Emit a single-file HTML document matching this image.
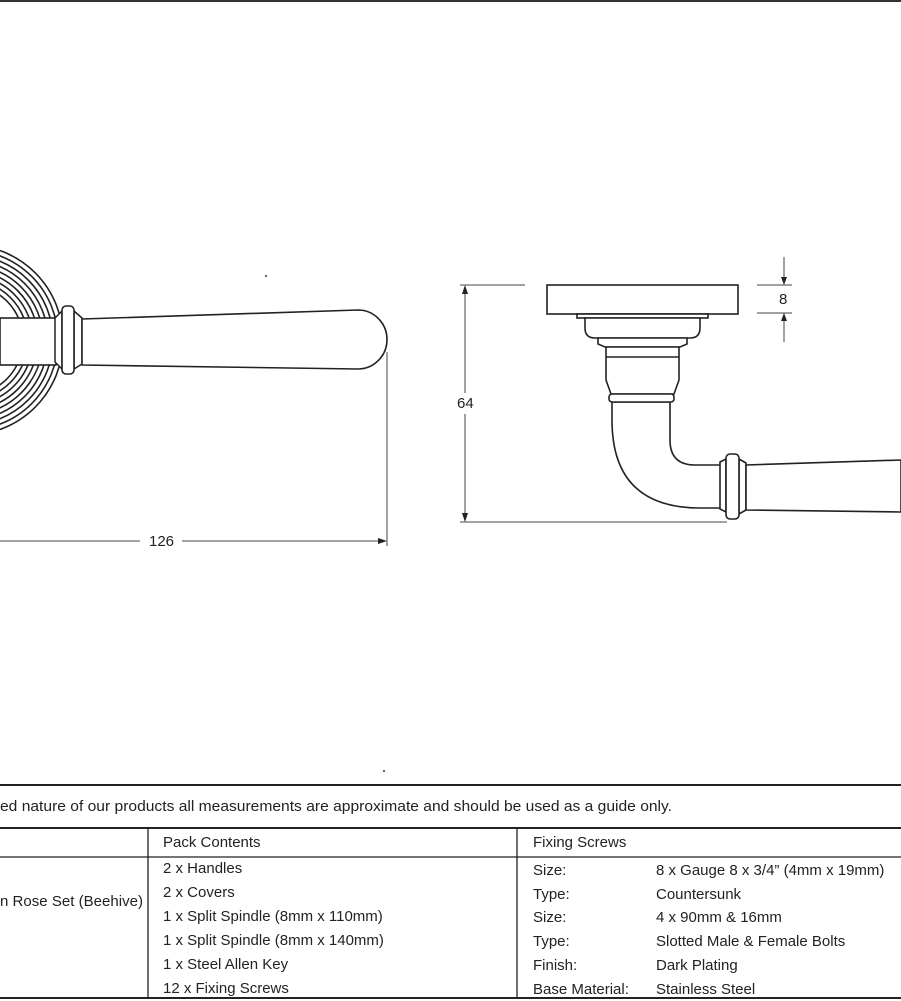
<!DOCTYPE html>
<html><head><meta charset="utf-8"><style>
html,body{margin:0;padding:0;background:#fff;}
svg{display:block}
text{font-family:"Liberation Sans",sans-serif;fill:#222;}
.t{font-size:15px;}
</style></head><body>
<svg width="901" height="1001" viewBox="0 0 901 1001" xmlns="http://www.w3.org/2000/svg">
<line x1="0" y1="1" x2="901" y2="1" stroke="#333" stroke-width="2"/>
<g fill="none" stroke="#222" stroke-width="1.6">
<circle cx="-32" cy="340" r="95"/><circle cx="-32" cy="340" r="90"/><circle cx="-32" cy="340" r="85"/>
<circle cx="-32" cy="340" r="80"/><circle cx="-32" cy="340" r="75"/><circle cx="-32" cy="340" r="70"/>
<circle cx="-32" cy="340" r="65"/><circle cx="-32" cy="340" r="60"/><circle cx="-32" cy="340" r="55"/>
</g>
<rect x="0" y="318" width="56" height="47" fill="#fff" stroke="#222" stroke-width="1.6"/>
<path d="M55 318 L62 311 L62 369 L55 362 Z" fill="#fff" stroke="#222" stroke-width="1.5"/>
<path d="M74 311 L82 318 L82 364 L74 369 Z" fill="#fff" stroke="#222" stroke-width="1.5"/>
<rect x="62" y="306" width="12" height="68" rx="4" fill="#fff" stroke="#222" stroke-width="1.6"/>
<path d="M82 319 L358 310 A29 29.5 0 0 1 358 369 L82 365 Z" fill="#fff" stroke="#222" stroke-width="1.6"/>
<circle cx="266" cy="276" r="1" fill="#333"/>
<circle cx="384" cy="771" r="1" fill="#333"/>
<g stroke="#444" stroke-width="1">
<line x1="387" y1="352" x2="387" y2="546"/>
<line x1="0" y1="541" x2="140" y2="541"/>
<line x1="182" y1="541" x2="380" y2="541"/>
</g>
<path d="M387 541 L378 538 L378 544 Z" fill="#222"/>
<text x="149" y="546" class="t">126</text>

<g stroke="#444" stroke-width="1" fill="none">
<line x1="460" y1="285" x2="525" y2="285"/>
<line x1="460" y1="522" x2="727" y2="522"/>
<line x1="465" y1="292" x2="465" y2="393"/>
<line x1="465" y1="414" x2="465" y2="516"/>
<line x1="757" y1="285" x2="792" y2="285"/>
<line x1="757" y1="313" x2="792" y2="313"/>
<line x1="784" y1="257" x2="784" y2="280"/>
<line x1="784" y1="318" x2="784" y2="342"/>
</g>
<path d="M465 285 L462 294 L468 294 Z M465 522 L462 513 L468 513 Z M784 285 L781 277 L787 277 Z M784 313 L781 321 L787 321 Z" fill="#222"/>
<text x="457" y="408" class="t">64</text>
<text x="779" y="304" class="t">8</text>
<g fill="#fff" stroke="#222" stroke-width="1.6">
<rect x="547" y="285" width="191" height="29"/>
<rect x="577" y="314" width="131" height="4"/>
<path d="M585 318 L700 318 L700 328 Q700 338 690 338 L595 338 Q585 338 585 328 Z"/>
<path d="M598 338 L687 338 L687 344 L680 347 L605 347 L598 344 Z"/>
<path d="M606 347 L679 347 L679 380 L674 394 L611 394 L606 380 Z"/>
<line x1="606" y1="357" x2="679" y2="357"/>
<path d="M612 402 L670 402 L670 440 Q670 465 695 465 L722 465 L722 508 L700 508 Q612 508 612 420 Z"/>
<rect x="609" y="394" width="65" height="8" rx="3"/>
<path d="M720 462 L726 459 L726 512 L720 509 Z"/>
<path d="M739 459 L746 463 L746 510 L739 514 Z"/>
<rect x="726" y="454" width="13" height="65" rx="4"/>
<path d="M746 465 L901 460 L901 512 L746 510 Z"/>
</g>

<g stroke="#222" stroke-width="2">
<line x1="0" y1="785" x2="901" y2="785"/>
<line x1="0" y1="828" x2="901" y2="828"/>
<line x1="0" y1="998" x2="901" y2="998"/>
</g>
<g stroke="#222" stroke-width="1.3">
<line x1="0" y1="857" x2="901" y2="857"/>
<line x1="148" y1="828" x2="148" y2="998"/>
<line x1="517" y1="828" x2="517" y2="998"/>
</g>
<g class="t">
<text x="0" y="811" textLength="672" lengthAdjust="spacingAndGlyphs">ed nature of our products all measurements are approximate and should be used as a guide only.</text>
<text x="163" y="847">Pack Contents</text>
<text x="533" y="847">Fixing Screws</text>
<text x="0" y="906" textLength="143" lengthAdjust="spacingAndGlyphs">n Rose Set (Beehive)</text>
<text x="163" y="873">2 x Handles</text>
<text x="163" y="897">2 x Covers</text>
<text x="163" y="921">1 x Split Spindle (8mm x 110mm)</text>
<text x="163" y="945">1 x Split Spindle (8mm x 140mm)</text>
<text x="163" y="969">1 x Steel Allen Key</text>
<text x="163" y="993">12 x Fixing Screws</text>
<text x="533" y="875">Size:</text>
<text x="533" y="899">Type:</text>
<text x="533" y="922">Size:</text>
<text x="533" y="946">Type:</text>
<text x="533" y="970">Finish:</text>
<text x="533" y="994">Base Material:</text>
<text x="656" y="875">8 x Gauge 8 x 3/4” (4mm x 19mm)</text>
<text x="656" y="899">Countersunk</text>
<text x="656" y="922">4 x 90mm &amp; 16mm</text>
<text x="656" y="946">Slotted Male &amp; Female Bolts</text>
<text x="656" y="970">Dark Plating</text>
<text x="656" y="994">Stainless Steel</text>
</g>
</svg>
</body></html>
